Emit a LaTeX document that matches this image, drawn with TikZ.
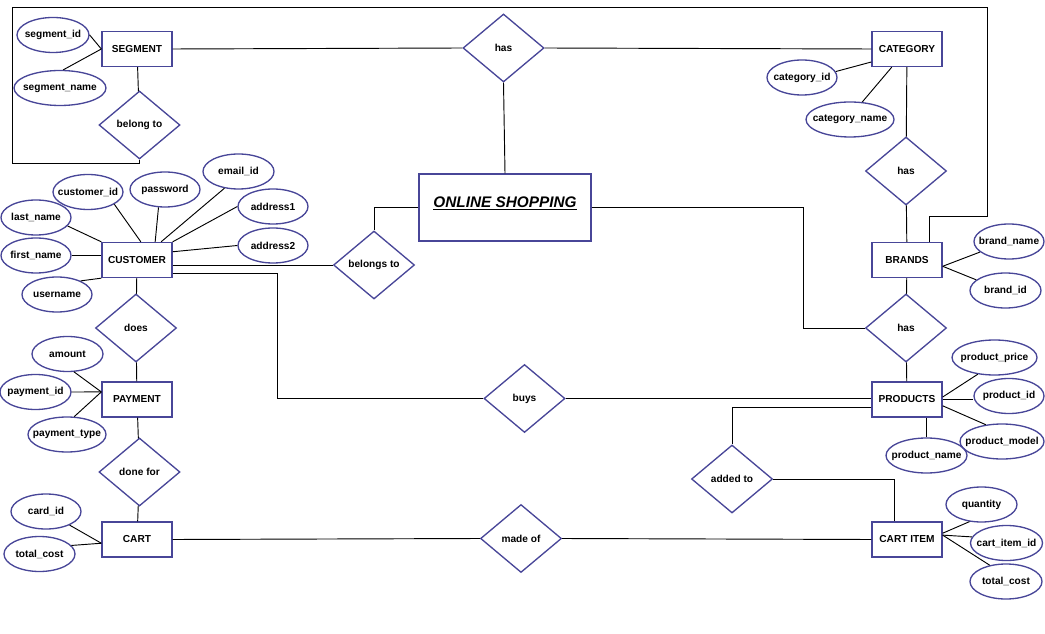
\documentclass[tikz,border=0pt]{standalone}
\usepackage{fontspec}
\setmainfont{Liberation Sans}
\usetikzlibrary{shapes.geometric}
\definecolor{erblue}{RGB}{72,70,152}
\tikzset{
  entity/.style={draw=erblue, line width=1pt, minimum width=52.5pt, minimum height=26.25pt, inner sep=0pt, font=\fontsize{7.6}{9}\selectfont\bfseries},
  attr/.style={draw=erblue, line width=1pt, ellipse, minimum width=#1, minimum height=26.25pt, inner xsep=-6pt, inner ysep=0pt, font=\fontsize{7.6}{9}\selectfont\bfseries},
  attr/.default=52.5pt,
  rel/.style={draw=erblue, line width=1pt, diamond, shape aspect=1.2, minimum width=60.75pt, minimum height=51pt, inner sep=0pt, font=\fontsize{7.6}{9}\selectfont\bfseries},
  link/.style={line width=0.7pt}
}
\begin{document}
\begin{tikzpicture}[x=0.75pt, y=-0.75pt]
\useasboundingbox (0,0) rectangle (1045,634);
% entities
\node[entity] (seg) at (137,49) {SEGMENT};
\node[entity] (cust) at (137,260) {CUSTOMER};
\node[entity] (pay) at (137,399.5) {PAYMENT};
\node[entity] (cart) at (137,539.5) {CART};
\node[entity] (cat) at (907,49) {CATEGORY};
\node[entity] (brands) at (907,260) {BRANDS};
\node[entity] (prod) at (907,399.5) {PRODUCTS};
\node[entity] (cartitem) at (907,539.5) {CART ITEM};
\node[entity, minimum width=129pt, minimum height=50.25pt, font=\fontsize{11.5}{13}\selectfont\bfseries\itshape] (os) at (505,207.5) {\raisebox{8.5pt}{\underline{ONLINE SHOPPING}}};
% relationships
\node[rel] (hastop) at (503.5,48) {has};
\node[rel] (belong) at (139.5,125) {belong to};
\node[rel] (belongs) at (374,265) {belongs to};
\node[rel] (does) at (136,328) {does};
\node[rel] (donefor) at (139.5,472) {done for};
\node[rel] (hascb) at (906,171) {has};
\node[rel] (hasbp) at (906,328) {has};
\node[rel] (buys) at (524.5,398.5) {buys};
\node[rel] (madeof) at (521,538.5) {made of};
\node[rel] (added) at (732,479) {added to};
% attributes
\node[attr=54pt] (segid) at (53,35) {segment\_id};
\node[attr=69pt] (segname) at (60,88) {segment\_name};
\node[attr] (custid) at (88,192) {customer\_id};
\node[attr] (pw) at (165,189.5) {password};
\node[attr=53.25pt] (email) at (238.5,171.5) {email\_id};
\node[attr] (addr1) at (273,206.5) {address1};
\node[attr] (addr2) at (273,245.5) {address2};
\node[attr] (lname) at (36,217.5) {last\_name};
\node[attr] (fname) at (36,255.5) {first\_name};
\node[attr] (uname) at (57,294.5) {username};
\node[attr=53.25pt] (amount) at (67.5,354) {amount};
\node[attr=53.25pt] (payid) at (35.5,392) {payment\_id};
\node[attr=58.5pt] (ptype) at (67,434.5) {payment\_type};
\node[attr] (cardid) at (46,511.5) {card\_id};
\node[attr=53.25pt] (tcost) at (39.5,554) {total\_cost};
\node[attr] (catid) at (802,77.5) {category\_id};
\node[attr=66pt] (catname) at (850,119.5) {category\_name};
\node[attr] (bname) at (1009,241.5) {brand\_name};
\node[attr=53.25pt] (bid) at (1005.5,290.5) {brand\_id};
\node[attr=63.75pt] (pprice) at (994.5,357.5) {product\_price};
\node[attr] (prodid) at (1009,396) {product\_id};
\node[attr=63pt] (pmodel) at (1002,441.5) {product\_model};
\node[attr=60.75pt] (pname) at (926.5,455.5) {product\_name};
\node[attr=53.25pt] (qty) at (981.5,504.5) {quantity};
\node[attr=54pt] (ciid) at (1006.5,543) {cart\_item\_id};
\node[attr=54pt] (tcostr) at (1006,581.5) {total\_cost};
% bends
\coordinate (loopA) at (12,163);
\coordinate (loopB) at (987,7);
\coordinate (loopC) at (929,216);
\coordinate (bendR) at (803,0);
\coordinate (bendL) at (277,273);
\coordinate (bendA) at (733,407);
\coordinate (bendB) at (894,0);
% relationship links
\draw[link] (seg.east) -- (hastop.west);
\draw[link] (hastop.east) -- (cat.west);
\draw[link] (hastop.south) -- (os.north);
\draw[link] (seg) -- (belong);
\draw[link] (belong.south) |- (loopA) |- (loopB) |- (loopC) -- (loopC |- brands.north);
\draw[link] (cat) -- (hascb);
\draw[link] (hascb) -- (brands);
\draw[link] (brands) -- (hasbp);
\draw[link] (hasbp) -- (prod);
\draw[link] (os.east) -| (bendR |- hasbp.west) -- (hasbp.west);
\draw[link] (os.west) -| (belongs.north);
\draw[link] (cust.east |- belongs.west) -- (belongs.west);
\draw[link] (cust.east |- bendL) -| (bendL |- buys.west) -- (buys.west);
\draw[link] (buys.east) -- (prod.west |- buys.east);
\draw[link] (prod.west |- bendA) -| (added.north);
\draw[link] (added.east) -| (bendB |- cartitem.north);
\draw[link] (cust) -- (does);
\draw[link] (does) -- (pay);
\draw[link] (pay) -- (donefor);
\draw[link] (donefor) -- (cart);
\draw[link] (cart.east) -- (madeof.west);
\draw[link] (madeof.east) -- (cartitem.west);
% attribute links
\draw[link] (segid.east) -- (seg.west);
\draw[link] (segname.80) -- (seg.west);
\draw[link] (custid.-25) -- (cust.78);
\draw[link] (pw.250) -- (cust.45);
\draw[link] (email.230) -- (cust.37);
\draw[link] (addr1.west) -- (cust.north east);
\draw[link] (addr2.west) -- (cust.13);
\draw[link] (lname.-15) -- (cust.north west);
\draw[link] (fname.east) -- (cust.west |- fname.east);
\draw[link] (uname.30) -- (cust.south west);
\draw[link] (amount.-70) -- (pay.168);
\draw[link] (payid.east) -- (pay.168);
\draw[link] (ptype.68) -- (pay.168);
\draw[link] (cardid.-30) -- (cart.186);
\draw[link] (tcost.15) -- (cart.186);
\draw[link] (catid.10) -- (cat.200);
\draw[link] (catname.55) -- (cat.230);
\draw[link] (bname.200) -- (brands.-10);
\draw[link] (bid.160) -- (brands.-10);
\draw[link] (pprice.225) -- (prod.4);
\draw[link] (prod.east) -- (prod.east -| prodid.west);
\draw[link] (pmodel.134) -- (prod.-10);
\draw[link] (pname.north) -- (pname.north |- prod.south);
\draw[link] (qty.235) -- (cartitem.10);
\draw[link] (ciid.170) -- (cartitem.7);
\draw[link] (tcostr.135) -- (cartitem.7);
\end{tikzpicture}
\end{document}
